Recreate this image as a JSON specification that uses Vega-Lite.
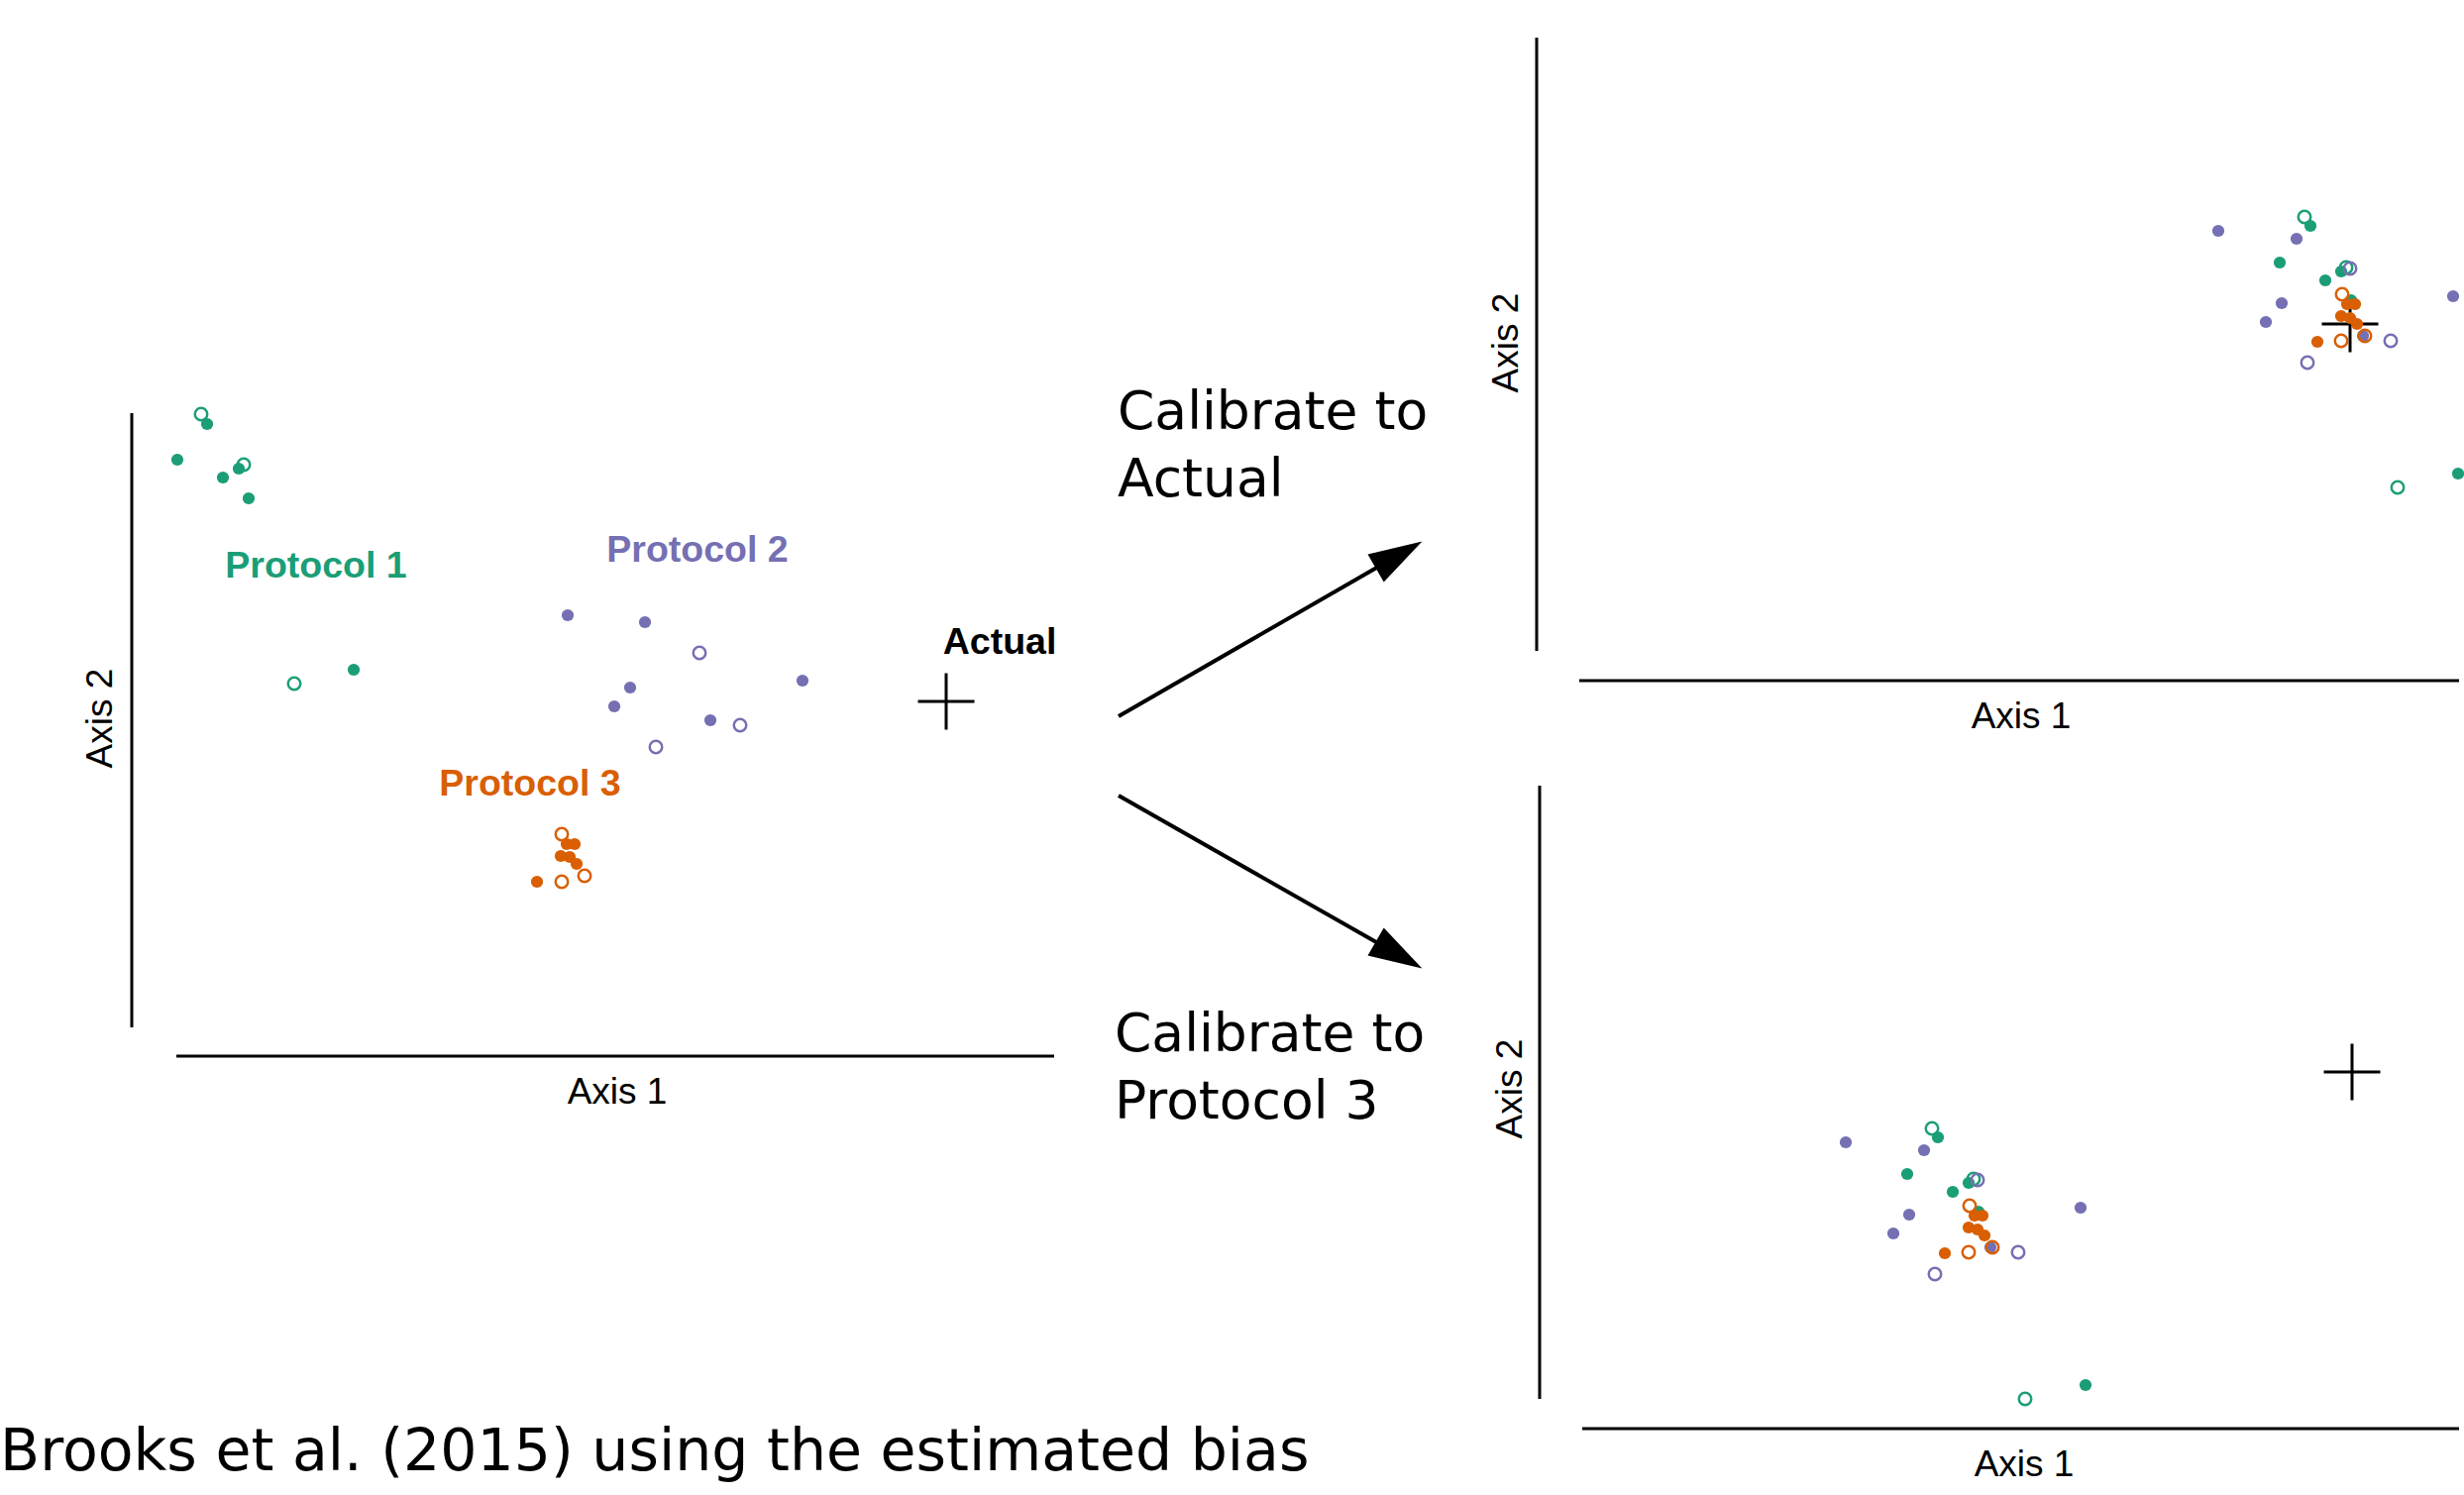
{
  "$schema": "https://vega.github.io/schema/vega-lite/v6.json",
  "width": 2487,
  "height": 1509,
  "autosize": {"type": "none"},
  "padding": 0,
  "background": "white",
  "config": {"view": {"stroke": null}},
  "datasets": {
    "points": [
      {"panel": "L", "group": "Protocol 1", "hollow": true, "x": 203, "y": 418},
      {"panel": "L", "group": "Protocol 1", "hollow": false, "x": 209, "y": 428},
      {"panel": "L", "group": "Protocol 1", "hollow": false, "x": 179, "y": 464},
      {"panel": "L", "group": "Protocol 1", "hollow": false, "x": 225, "y": 482},
      {"panel": "L", "group": "Protocol 1", "hollow": false, "x": 241, "y": 473},
      {"panel": "L", "group": "Protocol 1", "hollow": true, "x": 246, "y": 469},
      {"panel": "L", "group": "Protocol 1", "hollow": false, "x": 251, "y": 503},
      {"panel": "L", "group": "Protocol 1", "hollow": true, "x": 297, "y": 690},
      {"panel": "L", "group": "Protocol 1", "hollow": false, "x": 357, "y": 676},
      {"panel": "L", "group": "Protocol 2", "hollow": false, "x": 573, "y": 621},
      {"panel": "L", "group": "Protocol 2", "hollow": false, "x": 651, "y": 628},
      {"panel": "L", "group": "Protocol 2", "hollow": true, "x": 706, "y": 659},
      {"panel": "L", "group": "Protocol 2", "hollow": false, "x": 810, "y": 687},
      {"panel": "L", "group": "Protocol 2", "hollow": false, "x": 636, "y": 694},
      {"panel": "L", "group": "Protocol 2", "hollow": false, "x": 620, "y": 713},
      {"panel": "L", "group": "Protocol 2", "hollow": false, "x": 717, "y": 727},
      {"panel": "L", "group": "Protocol 2", "hollow": true, "x": 747, "y": 732},
      {"panel": "L", "group": "Protocol 2", "hollow": true, "x": 662, "y": 754},
      {"panel": "L", "group": "Protocol 3", "hollow": true, "x": 567, "y": 842},
      {"panel": "L", "group": "Protocol 3", "hollow": false, "x": 572, "y": 852},
      {"panel": "L", "group": "Protocol 3", "hollow": false, "x": 580, "y": 852},
      {"panel": "L", "group": "Protocol 3", "hollow": false, "x": 566, "y": 864},
      {"panel": "L", "group": "Protocol 3", "hollow": false, "x": 575, "y": 865},
      {"panel": "L", "group": "Protocol 3", "hollow": false, "x": 582, "y": 872},
      {"panel": "L", "group": "Protocol 3", "hollow": true, "x": 590, "y": 884},
      {"panel": "L", "group": "Protocol 3", "hollow": false, "x": 542, "y": 890},
      {"panel": "L", "group": "Protocol 3", "hollow": true, "x": 567, "y": 890},

      {"panel": "A", "group": "Protocol 1", "hollow": true, "x": 2326, "y": 219},
      {"panel": "A", "group": "Protocol 1", "hollow": false, "x": 2332, "y": 228},
      {"panel": "A", "group": "Protocol 1", "hollow": false, "x": 2301, "y": 265},
      {"panel": "A", "group": "Protocol 1", "hollow": false, "x": 2347, "y": 283},
      {"panel": "A", "group": "Protocol 1", "hollow": false, "x": 2363, "y": 274},
      {"panel": "A", "group": "Protocol 1", "hollow": true, "x": 2368, "y": 270},
      {"panel": "A", "group": "Protocol 1", "hollow": false, "x": 2373, "y": 303},
      {"panel": "A", "group": "Protocol 1", "hollow": true, "x": 2420, "y": 492},
      {"panel": "A", "group": "Protocol 1", "hollow": false, "x": 2481, "y": 478},
      {"panel": "A", "group": "Protocol 2", "hollow": false, "x": 2239, "y": 233},
      {"panel": "A", "group": "Protocol 2", "hollow": false, "x": 2318, "y": 241},
      {"panel": "A", "group": "Protocol 2", "hollow": true, "x": 2372, "y": 271},
      {"panel": "A", "group": "Protocol 2", "hollow": false, "x": 2476, "y": 299},
      {"panel": "A", "group": "Protocol 2", "hollow": false, "x": 2303, "y": 306},
      {"panel": "A", "group": "Protocol 2", "hollow": false, "x": 2287, "y": 325},
      {"panel": "A", "group": "Protocol 2", "hollow": false, "x": 2385, "y": 339},
      {"panel": "A", "group": "Protocol 2", "hollow": true, "x": 2413, "y": 344},
      {"panel": "A", "group": "Protocol 2", "hollow": true, "x": 2329, "y": 366},
      {"panel": "A", "group": "Protocol 3", "hollow": true, "x": 2364, "y": 297},
      {"panel": "A", "group": "Protocol 3", "hollow": false, "x": 2369, "y": 307},
      {"panel": "A", "group": "Protocol 3", "hollow": false, "x": 2377, "y": 307},
      {"panel": "A", "group": "Protocol 3", "hollow": false, "x": 2363, "y": 319},
      {"panel": "A", "group": "Protocol 3", "hollow": false, "x": 2372, "y": 321},
      {"panel": "A", "group": "Protocol 3", "hollow": false, "x": 2379, "y": 327},
      {"panel": "A", "group": "Protocol 3", "hollow": true, "x": 2387, "y": 339},
      {"panel": "A", "group": "Protocol 3", "hollow": false, "x": 2339, "y": 345},
      {"panel": "A", "group": "Protocol 3", "hollow": true, "x": 2363, "y": 344},

      {"panel": "B", "group": "Protocol 1", "hollow": true, "x": 1950, "y": 1139},
      {"panel": "B", "group": "Protocol 1", "hollow": false, "x": 1956, "y": 1148},
      {"panel": "B", "group": "Protocol 1", "hollow": false, "x": 1925, "y": 1185},
      {"panel": "B", "group": "Protocol 1", "hollow": false, "x": 1971, "y": 1203},
      {"panel": "B", "group": "Protocol 1", "hollow": false, "x": 1987, "y": 1194},
      {"panel": "B", "group": "Protocol 1", "hollow": true, "x": 1992, "y": 1190},
      {"panel": "B", "group": "Protocol 1", "hollow": false, "x": 1997, "y": 1223},
      {"panel": "B", "group": "Protocol 1", "hollow": true, "x": 2044, "y": 1412},
      {"panel": "B", "group": "Protocol 1", "hollow": false, "x": 2105, "y": 1398},
      {"panel": "B", "group": "Protocol 2", "hollow": false, "x": 1863, "y": 1153},
      {"panel": "B", "group": "Protocol 2", "hollow": false, "x": 1942, "y": 1161},
      {"panel": "B", "group": "Protocol 2", "hollow": true, "x": 1996, "y": 1191},
      {"panel": "B", "group": "Protocol 2", "hollow": false, "x": 2100, "y": 1219},
      {"panel": "B", "group": "Protocol 2", "hollow": false, "x": 1927, "y": 1226},
      {"panel": "B", "group": "Protocol 2", "hollow": false, "x": 1911, "y": 1245},
      {"panel": "B", "group": "Protocol 2", "hollow": false, "x": 2009, "y": 1259},
      {"panel": "B", "group": "Protocol 2", "hollow": true, "x": 2037, "y": 1264},
      {"panel": "B", "group": "Protocol 2", "hollow": true, "x": 1953, "y": 1286},
      {"panel": "B", "group": "Protocol 3", "hollow": true, "x": 1988, "y": 1217},
      {"panel": "B", "group": "Protocol 3", "hollow": false, "x": 1993, "y": 1227},
      {"panel": "B", "group": "Protocol 3", "hollow": false, "x": 2001, "y": 1227},
      {"panel": "B", "group": "Protocol 3", "hollow": false, "x": 1987, "y": 1239},
      {"panel": "B", "group": "Protocol 3", "hollow": false, "x": 1996, "y": 1241},
      {"panel": "B", "group": "Protocol 3", "hollow": false, "x": 2003, "y": 1247},
      {"panel": "B", "group": "Protocol 3", "hollow": true, "x": 2011, "y": 1259},
      {"panel": "B", "group": "Protocol 3", "hollow": false, "x": 1963, "y": 1265},
      {"panel": "B", "group": "Protocol 3", "hollow": true, "x": 1987, "y": 1264}
    ],
    "actual": [
      {"panel": "L", "x": 955, "y": 708},
      {"panel": "A", "x": 2372, "y": 327},
      {"panel": "B", "x": 2374, "y": 1082}
    ],
    "segments": [
      {"kind": "axis", "x": 133, "y": 417, "x2": 133, "y2": 1037},
      {"kind": "axis", "x": 178, "y": 1066, "x2": 1064, "y2": 1066},
      {"kind": "axis", "x": 1551, "y": 38, "x2": 1551, "y2": 657},
      {"kind": "axis", "x": 1594, "y": 687, "x2": 2482, "y2": 687},
      {"kind": "axis", "x": 1554, "y": 793, "x2": 1554, "y2": 1412},
      {"kind": "axis", "x": 1597, "y": 1442, "x2": 2482, "y2": 1442},
      {"kind": "arrow", "target": "Actual", "x": 1129, "y": 723, "x2": 1412, "y2": 560},
      {"kind": "arrow", "target": "Protocol 3", "x": 1129, "y": 803, "x2": 1412, "y2": 964}
    ],
    "labels": [
      {"kind": "group", "group": "Protocol 1", "label": "Protocol 1", "x": 319, "y": 583},
      {"kind": "group", "group": "Protocol 2", "label": "Protocol 2", "x": 704, "y": 567},
      {"kind": "group", "group": "Protocol 3", "label": "Protocol 3", "x": 535, "y": 803},
      {"kind": "group", "group": "Actual", "label": "Actual", "x": 1009, "y": 660},
      {"kind": "axis1", "label": "Axis 1", "x": 623, "y": 1114},
      {"kind": "axis1", "label": "Axis 1", "x": 2040, "y": 735},
      {"kind": "axis1", "label": "Axis 1", "x": 2043, "y": 1490},
      {"kind": "axis2", "label": "Axis 2", "x": 113, "y": 725},
      {"kind": "axis2", "label": "Axis 2", "x": 1532, "y": 346},
      {"kind": "axis2", "label": "Axis 2", "x": 1536, "y": 1099},
      {"kind": "calib", "label": "Calibrate to", "x": 1128, "y": 433},
      {"kind": "calib", "label": "Actual", "x": 1128, "y": 501},
      {"kind": "calib", "label": "Calibrate to", "x": 1125, "y": 1061},
      {"kind": "calib", "label": "Protocol 3", "x": 1125, "y": 1129},
      {"kind": "caption", "label": "Brooks et al. (2015) using the estimated bias", "x": 0, "y": 1484}
    ]
  },
  "layer": [
    {
      "data": {"name": "segments"},
      "transform": [{"filter": "datum.kind === 'axis'"}],
      "mark": {"type": "rule", "color": "black", "strokeWidth": 3},
      "encoding": {
        "x": {"field": "x", "type": "quantitative", "scale": {"domain": [0, 2487], "nice": false, "zero": false}, "axis": null},
        "y": {"field": "y", "type": "quantitative", "scale": {"domain": [0, 1509], "reverse": true, "nice": false, "zero": false}, "axis": null},
        "x2": {"field": "x2"},
        "y2": {"field": "y2"}
      }
    },
    {
      "data": {"name": "segments"},
      "transform": [{"filter": "datum.kind === 'arrow'"}],
      "mark": {"type": "rule", "color": "black", "strokeWidth": 4},
      "encoding": {
        "x": {"field": "x", "type": "quantitative", "scale": {"domain": [0, 2487], "nice": false, "zero": false}, "axis": null},
        "y": {"field": "y", "type": "quantitative", "scale": {"domain": [0, 1509], "reverse": true, "nice": false, "zero": false}, "axis": null},
        "x2": {"field": "x2"},
        "y2": {"field": "y2"}
      }
    },
    {
      "data": {"name": "segments"},
      "transform": [{"filter": "datum.target === 'Actual'"}],
      "mark": {"type": "point", "shape": "M0,-1L-0.6,1L0.6,1Z", "size": 2916, "filled": true, "color": "black", "opacity": 1, "angle": 60},
      "encoding": {
        "x": {"field": "x2", "type": "quantitative", "scale": {"domain": [0, 2487], "nice": false, "zero": false}, "axis": null},
        "y": {"field": "y2", "type": "quantitative", "scale": {"domain": [0, 1509], "reverse": true, "nice": false, "zero": false}, "axis": null}
      }
    },
    {
      "data": {"name": "segments"},
      "transform": [{"filter": "datum.target === 'Protocol 3'"}],
      "mark": {"type": "point", "shape": "M0,-1L-0.6,1L0.6,1Z", "size": 2916, "filled": true, "color": "black", "opacity": 1, "angle": 120},
      "encoding": {
        "x": {"field": "x2", "type": "quantitative", "scale": {"domain": [0, 2487], "nice": false, "zero": false}, "axis": null},
        "y": {"field": "y2", "type": "quantitative", "scale": {"domain": [0, 1509], "reverse": true, "nice": false, "zero": false}, "axis": null}
      }
    },
    {
      "data": {"name": "actual"},
      "mark": {"type": "point", "shape": "M-1,0L1,0M0,-1L0,1", "size": 3249, "filled": false, "color": "black", "strokeWidth": 3, "opacity": 1},
      "encoding": {
        "x": {"field": "x", "type": "quantitative", "scale": {"domain": [0, 2487], "nice": false, "zero": false}, "axis": null},
        "y": {"field": "y", "type": "quantitative", "scale": {"domain": [0, 1509], "reverse": true, "nice": false, "zero": false}, "axis": null}
      }
    },
    {
      "data": {"name": "points"},
      "transform": [{"filter": {"field": "hollow", "equal": false}}],
      "mark": {"type": "point", "shape": "circle", "filled": true, "size": 150, "opacity": 1},
      "encoding": {
        "x": {"field": "x", "type": "quantitative", "scale": {"domain": [0, 2487], "nice": false, "zero": false}, "axis": null},
        "y": {"field": "y", "type": "quantitative", "scale": {"domain": [0, 1509], "reverse": true, "nice": false, "zero": false}, "axis": null},
        "color": {"field": "group", "type": "nominal", "scale": {"domain": ["Protocol 1", "Protocol 2", "Protocol 3", "Actual"], "range": ["#1b9e77", "#7570b3", "#d95f02", "#000000"]}, "legend": null}
      }
    },
    {
      "data": {"name": "points"},
      "transform": [{"filter": {"field": "hollow", "equal": true}}],
      "mark": {"type": "point", "shape": "circle", "filled": false, "size": 156, "strokeWidth": 2.5, "opacity": 1},
      "encoding": {
        "x": {"field": "x", "type": "quantitative", "scale": {"domain": [0, 2487], "nice": false, "zero": false}, "axis": null},
        "y": {"field": "y", "type": "quantitative", "scale": {"domain": [0, 1509], "reverse": true, "nice": false, "zero": false}, "axis": null},
        "color": {"field": "group", "type": "nominal", "scale": {"domain": ["Protocol 1", "Protocol 2", "Protocol 3", "Actual"], "range": ["#1b9e77", "#7570b3", "#d95f02", "#000000"]}, "legend": null}
      }
    },
    {
      "data": {"name": "labels"},
      "transform": [{"filter": "datum.kind === 'group'"}],
      "mark": {"type": "text", "font": "Liberation Sans", "fontWeight": "bold", "fontSize": 37.5, "align": "center", "baseline": "alphabetic"},
      "encoding": {
        "x": {"field": "x", "type": "quantitative", "scale": {"domain": [0, 2487], "nice": false, "zero": false}, "axis": null},
        "y": {"field": "y", "type": "quantitative", "scale": {"domain": [0, 1509], "reverse": true, "nice": false, "zero": false}, "axis": null},
        "text": {"field": "label"},
        "color": {"field": "group", "type": "nominal", "scale": {"domain": ["Protocol 1", "Protocol 2", "Protocol 3", "Actual"], "range": ["#1b9e77", "#7570b3", "#d95f02", "#000000"]}, "legend": null}
      }
    },
    {
      "data": {"name": "labels"},
      "transform": [{"filter": "datum.kind === 'axis1'"}],
      "mark": {"type": "text", "font": "Liberation Sans", "fontSize": 37, "align": "center", "baseline": "alphabetic", "color": "black"},
      "encoding": {
        "x": {"field": "x", "type": "quantitative", "scale": {"domain": [0, 2487], "nice": false, "zero": false}, "axis": null},
        "y": {"field": "y", "type": "quantitative", "scale": {"domain": [0, 1509], "reverse": true, "nice": false, "zero": false}, "axis": null},
        "text": {"field": "label"}
      }
    },
    {
      "data": {"name": "labels"},
      "transform": [{"filter": "datum.kind === 'axis2'"}],
      "mark": {"type": "text", "font": "Liberation Sans", "fontSize": 37, "align": "center", "baseline": "alphabetic", "angle": 270, "color": "black"},
      "encoding": {
        "x": {"field": "x", "type": "quantitative", "scale": {"domain": [0, 2487], "nice": false, "zero": false}, "axis": null},
        "y": {"field": "y", "type": "quantitative", "scale": {"domain": [0, 1509], "reverse": true, "nice": false, "zero": false}, "axis": null},
        "text": {"field": "label"}
      }
    },
    {
      "data": {"name": "labels"},
      "transform": [{"filter": "datum.kind === 'calib'"}],
      "mark": {"type": "text", "font": "DejaVu Sans", "fontSize": 53.5, "align": "left", "baseline": "alphabetic", "color": "black"},
      "encoding": {
        "x": {"field": "x", "type": "quantitative", "scale": {"domain": [0, 2487], "nice": false, "zero": false}, "axis": null},
        "y": {"field": "y", "type": "quantitative", "scale": {"domain": [0, 1509], "reverse": true, "nice": false, "zero": false}, "axis": null},
        "text": {"field": "label"}
      }
    },
    {
      "data": {"name": "labels"},
      "transform": [{"filter": "datum.kind === 'caption'"}],
      "mark": {"type": "text", "font": "DejaVu Sans", "fontSize": 58.5, "align": "left", "baseline": "alphabetic", "color": "black"},
      "encoding": {
        "x": {"field": "x", "type": "quantitative", "scale": {"domain": [0, 2487], "nice": false, "zero": false}, "axis": null},
        "y": {"field": "y", "type": "quantitative", "scale": {"domain": [0, 1509], "reverse": true, "nice": false, "zero": false}, "axis": null},
        "text": {"field": "label"}
      }
    }
  ]
}
